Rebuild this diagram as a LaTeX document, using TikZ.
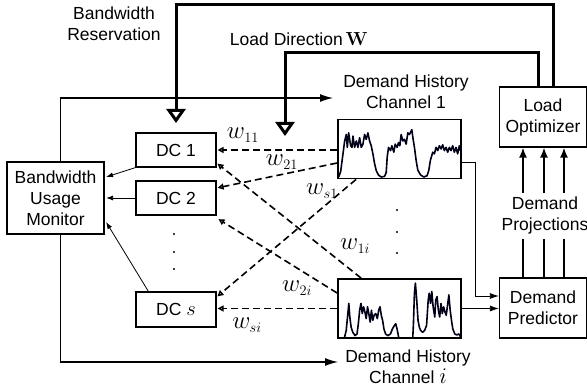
\documentclass[tikz,border=0pt]{standalone}
\usepackage[no-math]{fontspec}
\setmainfont{Liberation Sans}
\DeclareMathSizes{17.5}{24}{15}{10}
\usetikzlibrary{arrows.meta}
\begin{document}
\fontsize{17.5}{21}\selectfont
\begin{tikzpicture}[x=1pt,y=-1pt,
  font=\fontsize{17.5}{21}\selectfont,
  box/.style={draw, line width=1.2pt, inner sep=0pt, align=center},
  chart/.style={draw, line width=1.8pt, inner sep=0pt, minimum width=123pt, minimum height=59pt},
  lbl/.style={inner sep=0pt, align=center},
  fatline/.style={line width=3pt},
  bigtri/.style={-{Triangle[open,width=19pt,length=14pt]}},
  medline/.style={line width=1.2pt},
  bigarrow/.style={-{Latex[length=13pt,width=8pt]}},
  thinarrow/.style={line width=0.8pt,-{Latex[length=7pt,width=5pt]}},
  wline/.style={line width=1.6pt, dash pattern=on 7pt off 4pt, -{Triangle[open,length=6pt,width=6pt]}, shorten >=1pt},
  projarrow/.style={line width=1.6pt,-{Latex[length=10pt,width=8pt]}},
  curve/.style={line width=1.6pt, line join=round, color=black!90!blue}]
\useasboundingbox (0,0) rectangle (587,387);

% boxes
\node[box, minimum width=97pt, minimum height=72pt] (bum) at (55.5,198) {Bandwidth\\Usage\\Monitor};
\node[box, minimum width=80pt, minimum height=34pt] (dc1) at (176,150) {DC 1};
\node[box, minimum width=80pt, minimum height=34pt] (dc2) at (176,198) {DC 2};
\node[box, minimum width=80pt, minimum height=35pt] (dcs) at (176,309.5) {DC \scalebox{0.82}{$s$}};
\node[chart] (h1) at (399.5,149) {};
\node[chart] (hi) at (399.5,308.5) {};
\node[box, minimum width=87pt, minimum height=60pt] (lo) at (543,117) {Load\\Optimizer};
\node[box, minimum width=87pt, minimum height=60pt] (dp) at (543,308) {Demand\\Predictor};

% labels
\node[lbl] (bwr) at (114,24) {Bandwidth\\Reservation};
\node[lbl] (ldw) at (299,39) {Load Direction\,\scalebox{0.76}{$\mathbf{W}$}};
\node[lbl] (dh1) at (406,92) {Demand History\\Channel 1};
\node[lbl] (dhi) at (408,367) {Demand History\\Channel \scalebox{0.9}{$i$}};
\node[lbl] (proj) at (545,215) {Demand\\Projections};

% dots
\foreach \yy in {234,252,269} \fill (174,\yy) circle (1.1pt);
\foreach \yy in {210,232,253} \fill (397,\yy) circle (1.1pt);

% thick feedback lines
\coordinate (bwtip) at (176,123);
\coordinate (ldtip) at (285,136);
\draw[fatline,bigtri] ([xshift=10pt]lo.north) -- ++(0,-82) -| (bwtip);
\draw[fatline,bigtri] ([xshift=-5pt]lo.north) -- ++(0,-34) -| (ldtip);

% monitor lines
\coordinate (m1) at (333,98);
\coordinate (m2) at (338,362);
\draw[medline,bigarrow] ([xshift=5pt]bum.north) |- (m1);
\draw[medline,bigarrow] ([xshift=5pt]bum.south) |- (m2);

% DC -> monitor
\draw[thinarrow] (dc1.south west) -- ([shift={(1.5pt,21pt)}]bum.east);
\draw[thinarrow] (dc2.west) -- ([xshift=1.5pt]bum.east);
\draw[thinarrow] ([xshift=13pt]dcs.north west) -- ([shift={(1.5pt,-24pt)}]bum.east);

% weights
\draw[wline] (h1.west |- dc1.east) -- (dc1.east);
\draw[wline] ([yshift=-14pt]h1.west) -- ([yshift=10pt]dc2.east);
\draw[wline] ([xshift=19pt]h1.south west) -- ([yshift=12.5pt]dcs.east);
\draw[wline] ([xshift=24pt]hi.north west) -- ([yshift=-13pt]dc1.east);
\draw[wline] ([yshift=15.5pt]hi.west) -- ([shift={(1pt,-3pt)}]dc2.south east);
\draw[wline] (hi.west) -- (dcs.east |- hi.west);

\node[lbl] (w11) at (243,135) {$w_{11}$};
\node[lbl] (w21) at (282,162) {$w_{21}$};
\node[lbl] (ws1) at (322,191) {$w_{s1}$};
\node[lbl] (w1i) at (355,246) {$w_{1i}$};
\node[lbl] (w2i) at (297,288) {$w_{2i}$};
\node[lbl] (wsi) at (247,325) {$w_{si}$};

% charts -> predictor
\draw[line width=0.8pt,-{Latex[length=9pt,width=6pt]}] ([yshift=-13pt]h1.east) -- ++(13,0) |- ([yshift=12pt]dp.west);
\draw[line width=0.8pt,-{Latex[length=9pt,width=6pt]}] (hi.east) -- (dp.west |- hi.east);

% projections
\foreach \dx in {-20,1,21} {
  \draw[projarrow] ([shift={(\dx pt,-45pt)}]lo.south) -- ([xshift=\dx pt]lo.south);
  \draw[line width=1.6pt] ([xshift=\dx pt]dp.north) -- ++(0,-38);
}

% chart 1 curve
\begin{scope}[shift={(338,120)}, x=0.3324pt, y=-0.3222pt, shift={(-10,-15)}]
\draw[curve] (12,192) -- (18,175) -- (25,120) -- (30,80) -- (35,60) -- (38,100) -- (42,55) -- (48,95) -- (52,100) -- (55,65) -- (60,100) -- (65,80) -- (70,100) -- (75,70) -- (80,100) -- (85,90) -- (90,60) -- (95,75) -- (100,55) -- (105,80) -- (110,95) -- (115,120) -- (120,150) -- (125,172) -- (132,186) -- (140,192) -- (150,190) -- (155,178) -- (158,130) -- (162,100) -- (168,110) -- (172,95) -- (178,115) -- (182,90) -- (188,100) -- (192,85) -- (196,95) -- (200,60) -- (205,80) -- (210,75) -- (215,90) -- (220,55) -- (225,60) -- (232,45) -- (236,75) -- (240,100) -- (245,140) -- (250,170) -- (258,185) -- (268,192) -- (278,188) -- (283,172) -- (288,140) -- (295,115) -- (300,120) -- (305,100) -- (310,110) -- (315,95) -- (320,105) -- (325,92) -- (330,110) -- (335,100) -- (340,115) -- (345,100) -- (350,110) -- (355,95) -- (360,115) -- (365,100) -- (370,120) -- (375,95) -- (378,110);
\end{scope}

% chart i curve
\begin{scope}[shift={(338,279)}, x=0.328pt, y=-0.339pt, shift={(-10,-18)}]
\draw[curve] (30,190) -- (35,170) -- (40,120) -- (43,90) -- (46,130) -- (50,160) -- (55,175) -- (62,185) -- (68,180) -- (72,150) -- (76,110) -- (80,90) -- (84,120) -- (88,100) -- (92,115) -- (96,135) -- (100,100) -- (104,120) -- (108,145) -- (112,110) -- (116,140) -- (120,125) -- (125,120) -- (130,135) -- (134,110) -- (138,100) -- (142,125) -- (146,140) -- (150,165) -- (155,180) -- (162,185) -- (170,180) -- (176,165) -- (182,155) -- (186,150) -- (190,165) -- (195,190);
\draw[curve] (238,190) -- (240,150) -- (243,60) -- (246,30) -- (250,80) -- (254,140) -- (258,160) -- (262,170) -- (268,175) -- (274,170) -- (280,155) -- (285,80) -- (288,60) -- (292,90) -- (296,55) -- (300,100) -- (305,130) -- (308,80) -- (312,70) -- (316,110) -- (320,130) -- (324,90) -- (328,120) -- (332,100) -- (336,115) -- (340,125) -- (344,95) -- (348,65) -- (352,110) -- (356,140) -- (360,165) -- (366,180) -- (372,183) -- (378,180) -- (385,190);
\end{scope}
\end{tikzpicture}
\end{document}
